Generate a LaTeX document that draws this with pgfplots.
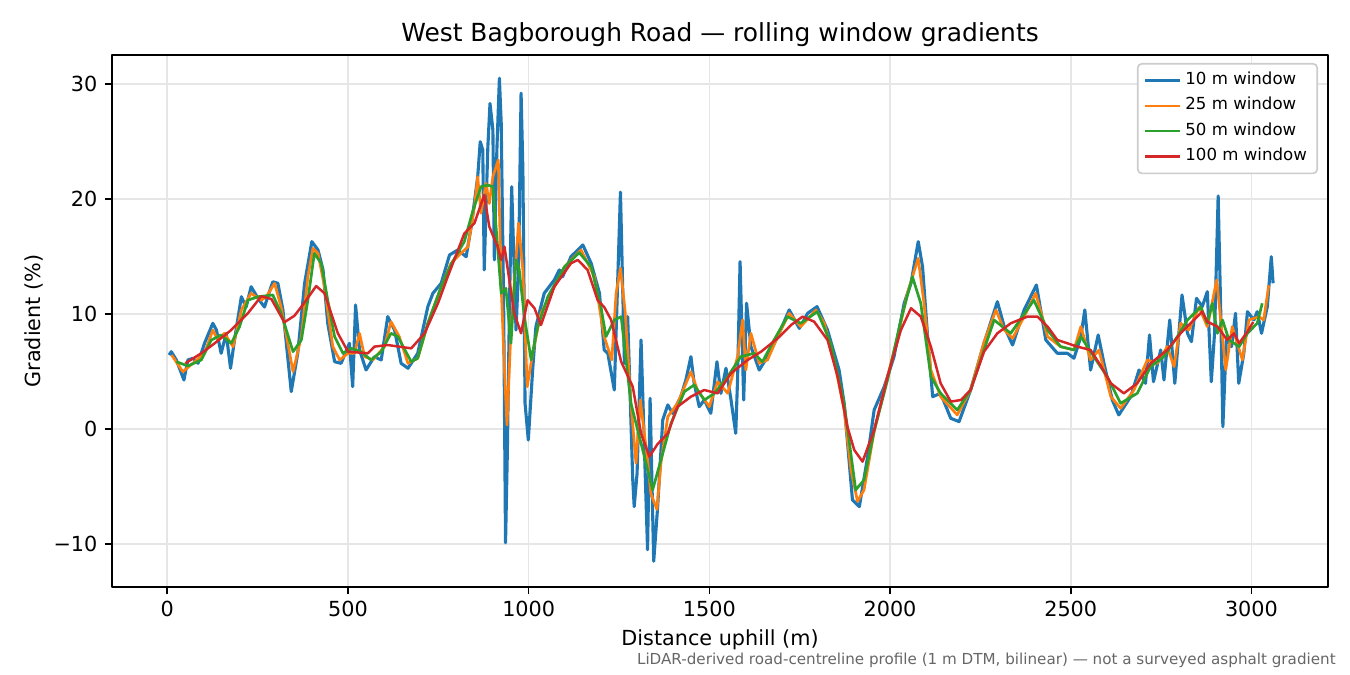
\documentclass[border=0pt]{standalone}
\usepackage{fontspec}
\setmainfont{DejaVu Sans}
\usepackage{pgfplots}
\pgfplotsset{compat=1.18}
\usepackage{pgfplotstable}
\definecolor{tabblue}{HTML}{1F77B4}
\definecolor{taborange}{HTML}{FF7F0E}
\definecolor{tabgreen}{HTML}{2CA02C}
\definecolor{tabred}{HTML}{D62728}
\definecolor{gridgray}{HTML}{E6E6E6}
\definecolor{notegray}{HTML}{666666}

\pgfplotstableread{
x y
5 6.43
11 6.72
25 6.0
46 4.26
57 6.0
71 6.15
85 5.71
103 7.45
126 9.19
136 8.6
149 6.58
163 8.32
175 5.28
186 7.74
205 11.5
218 10.6
232 12.37
251 11.36
269 10.6
278 11.5
292 12.8
306 12.67
320 10.35
343 3.25
361 6.58
380 12.67
400 16.29
417 15.57
431 13.83
444 9.19
463 5.85
481 5.71
504 7.45
513 3.68
521 10.78
532 6.87
550 5.13
573 6.29
592 6.0
610 9.77
629 8.6
647 5.71
666 5.28
693 6.58
721 10.64
735 11.8
758 12.67
781 15.13
804 15.57
827 14.98
841 17.6
859 21.94
866 24.98
873 24.26
877 13.83
887 24.5
893 28.3
901 26.0
905 14.7
912 24.26
919 30.5
924 26.6
931 10.0
936 -9.9
941 -2.0
947 10.93
953 21.07
960 13.83
965 8.6
972 13.83
979 29.2
984 22.5
990 2.23
999 -0.96
1011 5.13
1020 8.9
1043 11.8
1071 12.96
1085 13.83
1094 13.24
1117 14.98
1150 16.0
1173 14.4
1196 11.8
1209 6.87
1219 6.58
1237 3.39
1254 20.6
1265 5.71
1274 9.77
1288 -4.4
1292 -6.75
1300 -3.86
1311 7.74
1329 -10.5
1336 2.67
1346 -11.5
1357 -6.75
1371 0.78
1385 2.09
1398 1.36
1421 2.81
1435 4.26
1449 6.29
1458 3.97
1472 1.94
1486 2.52
1504 1.36
1521 5.85
1532 3.1
1546 5.28
1560 2.52
1573 -0.38
1578 4.26
1585 14.55
1595 2.52
1603 10.93
1615 7.16
1638 5.13
1661 6.29
1689 8.03
1721 10.35
1749 8.75
1772 10.06
1798 10.64
1827 8.6
1859 5.13
1873 2.23
1896 -6.17
1915 -6.75
1938 -2.41
1956 1.65
1984 3.68
2011 6.29
2039 10.93
2058 12.67
2078 16.29
2090 14.1
2104 8.03
2118 2.81
2140 3.1
2168 0.93
2191 0.64
2223 3.39
2260 7.45
2297 11.07
2316 8.9
2339 7.3
2371 10.35
2405 12.52
2431 7.74
2463 6.58
2491 6.58
2509 6.15
2528 8.03
2539 10.35
2555 5.13
2576 8.17
2592 5.71
2615 2.52
2633 1.22
2666 2.81
2689 5.13
2707 3.97
2718 8.17
2729 4.11
2749 6.87
2758 4.26
2774 9.48
2788 3.97
2808 11.65
2823 8.32
2834 7.59
2848 11.36
2864 10.64
2878 11.94
2889 4.11
2898 8.32
2908 20.26
2915 10.35
2921 0.2
2931 8.03
2945 7.16
2956 10.06
2965 3.97
2979 6.58
2989 10.2
3007 9.48
3016 10.2
3028 8.32
3044 10.64
3055 14.98
3060 12.67
}\wten

\pgfplotstableread{
x y
12 6.43
43 4.98
76 5.85
103 6.58
126 8.6
140 7.74
158 8.32
182 7.16
205 10.35
232 11.8
260 11.2
274 11.5
297 12.67
315 10.6
348 4.98
371 8.03
389 13.24
403 15.7
417 15.28
435 12.37
458 7.16
477 6.0
500 6.58
518 6.58
532 8.32
546 6.29
569 6.0
601 7.16
619 9.33
642 8.03
666 5.71
693 6.15
721 9.19
758 12.37
785 14.4
813 15.28
832 15.85
850 19.33
859 21.94
868 18.76
882 21.36
891 19.6
901 21.94
916 23.4
924 12.37
933 5.13
940 0.35
951 8.6
972 17.9
984 13.8
996 3.68
1011 6.58
1034 10.06
1062 11.8
1099 14.1
1145 15.57
1182 13.24
1209 8.03
1230 6.0
1242 11.8
1254 13.97
1267 10.2
1283 2.23
1297 -2.98
1309 2.52
1329 -2.7
1338 -5.6
1355 -7.0
1366 -2.98
1385 1.07
1412 2.23
1449 4.98
1467 3.39
1500 1.94
1523 4.11
1551 3.1
1578 6.29
1592 9.48
1601 5.13
1615 8.32
1638 5.71
1661 6.0
1689 8.03
1721 10.06
1753 8.9
1795 10.35
1818 9.19
1845 6.0
1873 1.65
1892 -3.57
1910 -6.3
1928 -5.3
1956 -0.2
1993 4.55
2021 8.03
2048 11.8
2078 14.84
2094 10.93
2113 5.13
2140 2.81
2186 1.22
2223 3.39
2260 7.54
2293 10.35
2316 8.6
2339 7.88
2371 9.77
2403 11.8
2436 8.03
2472 7.16
2509 6.87
2528 8.9
2555 6.0
2578 6.87
2611 2.81
2638 1.8
2675 3.39
2712 6.0
2740 5.71
2767 7.16
2786 5.42
2804 9.19
2827 8.6
2855 10.6
2878 8.9
2904 12.96
2929 5.13
2947 8.9
2975 6.0
2993 9.48
3021 9.77
3034 9.48
3048 12.5
}\wtwentyfive

\pgfplotstableread{
x y
25 5.85
57 5.48
94 6.0
122 7.74
149 8.17
177 7.45
200 8.9
223 11.2
251 11.5
292 11.65
315 10.06
348 6.72
371 7.74
389 11.2
407 15.28
426 14.4
444 11.2
463 8.03
486 6.58
509 7.01
536 6.72
564 6.0
592 6.72
619 8.32
638 8.03
675 5.85
693 6.15
721 9.19
758 12.37
785 14.3
822 16.3
845 18.9
868 21.07
887 21.2
901 21.07
914 15.85
924 11.8
937 12.23
951 7.45
965 14.7
974 13.83
988 9.77
1007 6.0
1025 8.9
1053 11.5
1099 14.1
1140 15.33
1173 14.1
1200 10.6
1214 8.03
1237 9.48
1256 9.77
1283 2.23
1311 -1.24
1343 -5.3
1366 -2.7
1394 0.5
1431 3.25
1458 3.83
1486 2.52
1514 3.1
1551 4.55
1587 6.29
1624 6.58
1647 5.85
1679 7.74
1716 9.77
1753 9.19
1799 10.2
1836 7.45
1873 2.23
1905 -5.3
1928 -4.43
1956 -0.2
1993 4.26
2030 9.48
2062 13.24
2085 10.93
2113 4.55
2140 3.1
2186 1.65
2223 3.39
2260 6.87
2288 9.48
2334 8.32
2398 11.2
2436 8.6
2472 7.16
2509 6.87
2528 8.03
2564 6.29
2601 4.55
2638 2.23
2684 3.1
2721 5.42
2758 6.29
2795 8.03
2823 9.48
2860 10.6
2878 9.19
2892 10.93
2906 8.32
2920 9.48
2938 7.74
2966 7.16
2989 8.32
3016 9.19
3030 10.93
}\wfifty

\pgfplotstableread{
x y
50 5.71
94 6.58
131 7.45
177 8.61
223 10.06
260 11.54
288 11.3
324 9.28
352 9.85
380 11.0
412 12.43
435 11.8
472 8.32
500 6.72
555 6.58
573 7.16
610 7.3
675 7.01
712 8.32
749 10.93
776 13.24
822 17.0
850 17.9
877 20.35
891 17.6
914 15.85
924 14.7
933 15.85
960 10.06
979 8.32
997 11.2
1016 10.5
1034 9.04
1071 12.37
1117 14.4
1136 14.7
1163 13.83
1191 11.2
1209 10.6
1228 9.5
1256 5.85
1288 3.68
1311 -0.4
1334 -2.4
1357 -1.3
1385 -0.38
1412 1.94
1449 2.81
1486 3.39
1523 3.1
1560 4.84
1606 6.0
1643 6.72
1689 7.88
1726 9.04
1758 9.77
1790 9.33
1827 7.74
1855 4.55
1882 0.2
1901 -1.83
1924 -2.84
1956 -0.09
1993 4.55
2030 8.6
2058 10.5
2085 9.77
2113 7.16
2140 3.97
2168 2.38
2196 2.52
2223 3.39
2260 6.72
2297 8.32
2334 9.19
2380 9.77
2408 9.77
2436 8.9
2463 7.74
2491 7.45
2518 7.16
2555 6.87
2583 5.5
2611 3.97
2647 3.1
2684 3.97
2721 5.71
2767 6.87
2804 8.32
2841 9.48
2864 10.2
2878 9.33
2906 8.9
2933 7.74
2952 8.32
2966 7.45
2989 8.46
3005 9.3
}\whundred

\begin{document}
\begin{tikzpicture}
\path[use as bounding box] (0,0) rectangle (9in,4.5in);
\begin{axis}[
  at={(0.7467in,0.5867in)}, anchor=south west,
  scale only axis, width=8.1067in, height=3.5467in,
  xmin=-153, xmax=3212, ymin=-13.74, ymax=32.52,
  xtick={0,500,1000,1500,2000,2500,3000},
  xticklabels={0,500,1000,1500,2000,2500,3000},
  ytick={-10,0,10,20,30},
  yticklabels={−10,0,10,20,30},
  xtick pos=lower, ytick pos=left,
  tick align=outside, major tick length=3.5pt,
  tick style={black, line width=0.8pt},
  axis line style={line width=0.8pt},
  grid=major, major grid style={gridgray, line width=0.8pt},
  tick label style={font=\fontsize{10}{12}\selectfont},
  xlabel={Distance uphill (m)},
  xlabel style={font=\fontsize{10}{12}\selectfont, at={(axis description cs:0.5,-0.0996)}, anchor=center},
  ylabel={Gradient (\%)},
  ylabel style={font=\fontsize{10}{12}\selectfont, at={(axis description cs:-0.0641,0.5)}, anchor=center},
  legend cell align=left,
  legend style={at={(axis description cs:0.9918,0.985)}, anchor=north east,
    font=\fontsize{8}{9.6}\selectfont, draw=black!20, line width=0.8pt,
    rounded corners=2pt, fill=white, inner xsep=3pt, inner ysep=2pt,
    row sep=0pt, nodes={inner sep=2pt, text height=6pt, text depth=2.2pt}},
  legend image code/.code={\draw[#1, line width=1.2pt] (0pt,0pt) -- (16.8pt,0pt);},
  no markers, line join=round,
]
\addplot[tabblue, line width=1.5pt] table[x=x,y=y]{\wten};
\addlegendentry{10 m window}
\addplot[taborange, line width=1.3pt] table[x=x,y=y]{\wtwentyfive};
\addlegendentry{25 m window}
\addplot[tabgreen, line width=1.3pt] table[x=x,y=y]{\wfifty};
\addlegendentry{50 m window}
\addplot[tabred, line width=1.2pt] table[x=x,y=y]{\whundred};
\addlegendentry{100 m window}
\end{axis}
\node[anchor=base, inner sep=0pt, font=\fontsize{12}{14}\selectfont] at (4.8in,4.22in)
  {West Bagborough Road — rolling window gradients};
\node[anchor=east, inner sep=0pt, text=notegray, font=\fontsize{7.3}{8.5}\selectfont] at (8.907in,0.1in)
  {LiDAR-derived road-centreline profile (1 m DTM, bilinear) — not a surveyed asphalt gradient};
\end{tikzpicture}
\end{document}
